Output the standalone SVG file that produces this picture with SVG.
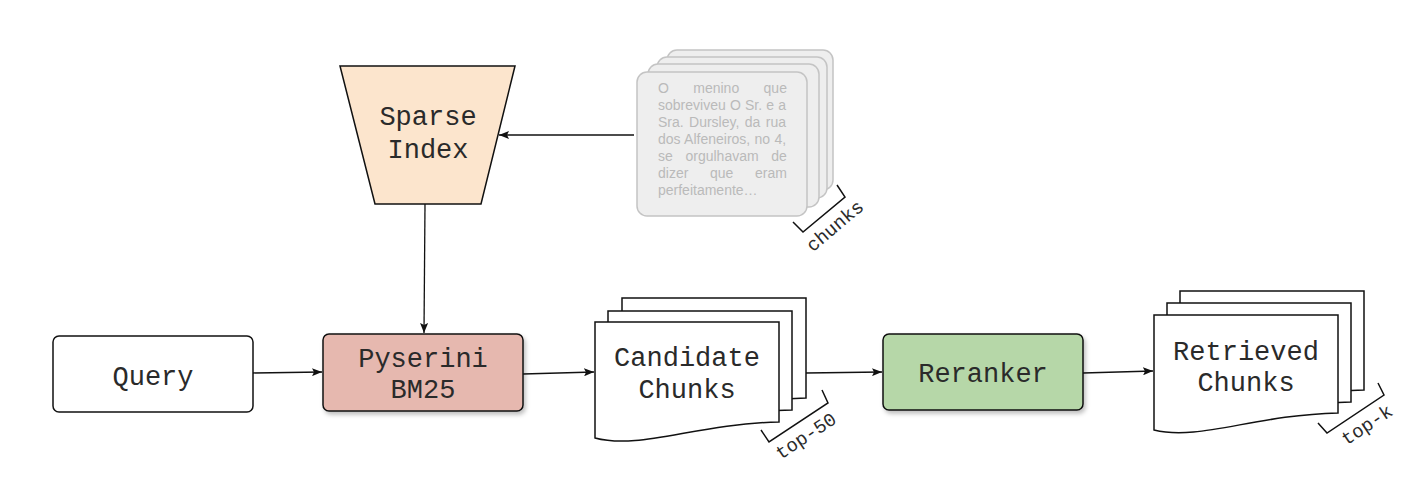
<svg xmlns="http://www.w3.org/2000/svg" width="1419" height="484" viewBox="0 0 1419 484">
  <style>
    .lbl { font-family: "Liberation Mono", "Courier New", monospace; font-size: 27px; fill: #2a2a2a; text-anchor: middle; }
    .tag { font-family: "Liberation Mono", "Courier New", monospace; font-size: 19px; fill: #2a2a2a; text-anchor: middle; }
    .box { stroke: #111; stroke-width: 1.5; }
    .doc { fill: #fff; stroke: #111; stroke-width: 1.5; }
    .card { fill: #eeeeee; stroke: #c4c4c4; stroke-width: 1.5; }
    .ctext { font-family: "Liberation Sans", Arial, sans-serif; font-size: 14px; fill: #bababa; }
    .edge { fill: none; stroke: #111; stroke-width: 1.3; }
    .brk { fill: none; stroke: #111; stroke-width: 1.5; }
  </style>
  <defs>
    <marker id="arr" markerUnits="userSpaceOnUse" markerWidth="11" markerHeight="8" refX="10" refY="4" orient="auto">
      <path d="M0,0 L10,4 L0,8 L2,4 z" fill="#111"/>
    </marker>
    <filter id="sh" x="-10%" y="-10%" width="130%" height="140%">
      <feDropShadow dx="2" dy="3" stdDeviation="2" flood-color="#000" flood-opacity="0.25"/>
    </filter>
  </defs>

  <g id="connectors">
    <line class="edge" x1="634" y1="135" x2="499" y2="135" marker-end="url(#arr)"/>
    <line class="edge" x1="425" y1="204" x2="424" y2="333" marker-end="url(#arr)"/>
    <line class="edge" x1="253" y1="373" x2="322" y2="372" marker-end="url(#arr)"/>
    <line class="edge" x1="523" y1="374" x2="594" y2="372" marker-end="url(#arr)"/>
    <line class="edge" x1="806" y1="373" x2="882" y2="372" marker-end="url(#arr)"/>
    <line class="edge" x1="1083" y1="373" x2="1153" y2="371" marker-end="url(#arr)"/>
  </g>

  <g id="sparse-index">
    <path class="box" d="M340,66 H515 L481,204 H375 Z" fill="#fce5cd"/>
    <text class="lbl" x="428" y="125">Sparse</text>
    <text class="lbl" x="428" y="158">Index</text>
  </g>

  <g id="chunks">
    <rect class="card" x="667" y="50" width="166" height="140" rx="10"/>
    <rect class="card" x="657" y="57" width="170" height="141" rx="10"/>
    <rect class="card" x="648" y="64" width="171" height="143" rx="10"/>
    <rect class="card" x="637" y="72" width="170" height="144" rx="10"/>
    <text class="ctext" x="658" y="93" style="word-spacing:20.5px">O menino que</text>
    <text class="ctext" x="658" y="110" style="word-spacing:0.3px">sobreviveu O Sr. e a</text>
    <text class="ctext" x="658" y="127" style="word-spacing:1.5px">Sra. Dursley, da rua</text>
    <text class="ctext" x="658" y="144" style="word-spacing:0.4px">dos Alfeneiros, no 4,</text>
    <text class="ctext" x="658" y="161" style="word-spacing:8.8px">se orgulhavam de</text>
    <text class="ctext" x="658" y="178" style="word-spacing:17.8px">dizer que eram</text>
    <text class="ctext" x="658" y="195">perfeitamente…</text>
    <path class="brk" d="M837,185 L845,197 L803,232 L793,222"/>
    <text class="tag" transform="translate(835,226) rotate(-40)" y="6">chunks</text>
  </g>

  <g id="query">
    <rect class="box" x="53" y="336" width="200" height="76" rx="6" fill="#fff"/>
    <text class="lbl" x="153" y="385">Query</text>
  </g>

  <g id="pyserini">
    <rect class="box" x="323" y="334" width="200" height="77" rx="6" fill="#e6b8af" filter="url(#sh)"/>
    <text class="lbl" x="423" y="367">Pyserini</text>
    <text class="lbl" x="423" y="398">BM25</text>
  </g>

  <g id="candidate-chunks">
    <path class="doc" d="M622,298 H806 V398 C722,400 667,426 622,414 Z"/>
    <path class="doc" d="M608,311 H792 V410 C708,412 653,438 608,426 Z"/>
    <path class="doc" d="M595,322 H779 V422 C695,424 640,450 595,438 Z"/>
    <text class="lbl" x="687" y="366">Candidate</text>
    <text class="lbl" x="687" y="398">Chunks</text>
    <path class="brk" d="M822,390 L828,403 L769,442 L761,430"/>
    <text class="tag" transform="translate(806,436) rotate(-33.5)" y="6">top-50</text>
  </g>

  <g id="reranker">
    <rect class="box" x="883" y="334" width="200" height="76" rx="6" fill="#b6d7a8" filter="url(#sh)"/>
    <text class="lbl" x="983" y="382">Reranker</text>
  </g>

  <g id="retrieved-chunks">
    <path class="doc" d="M1180,291 H1364 V390 C1280,392 1225,418 1180,406 Z"/>
    <path class="doc" d="M1167,303 H1351 V402 C1267,404 1212,430 1167,418 Z"/>
    <path class="doc" d="M1154,315 H1338 V413 C1254,415 1199,441 1154,430 Z"/>
    <text class="lbl" x="1246" y="360">Retrieved</text>
    <text class="lbl" x="1246" y="391">Chunks</text>
    <path class="brk" d="M1378,383 L1384,395 L1327,433 L1318,423"/>
    <text class="tag" transform="translate(1367,425) rotate(-33.5)" y="6">top-k</text>
  </g>
</svg>
